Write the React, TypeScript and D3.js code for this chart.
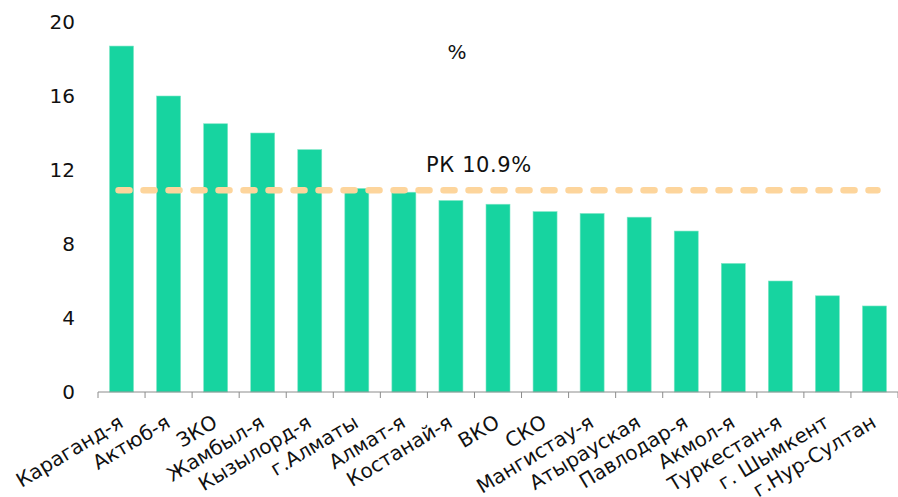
import * as d3 from 'd3';

// Data
const regions = [
    'Караганд-я', 'Актюб-я', 'ЗКО', 'Жамбыл-я', 'Кызылорд-я', 'г.Алматы', 'Алмат-я',
    'Костанай-я', 'ВКО', 'СКО', 'Мангистау-я', 'Атырауская', 'Павлодар-я', 'Акмол-я',
    'Туркестан-я', 'г. Шымкент', 'г.Нур-Султан'
];
const shares = [18.7, 16.0, 14.5, 14.0, 13.1, 11.0, 10.8, 10.35, 10.15, 9.75, 9.65, 9.45, 8.7, 6.95, 6.0, 5.2, 4.65];
const countryAvg = 10.9;
const yTicks = [0, 4, 8, 12, 16, 20];

const W = 898, H = 497;
const font = 'DejaVu Sans, Verdana, sans-serif';

export default function App() {
    const x = d3.scaleBand().domain(regions).range([98, 898]).paddingInner(0.49).paddingOuter(0.245);
    const y = d3.scaleLinear().domain([0, 20]).range([392, 22]);
    const step = x.step();

    // Border positions between the categories
    const tickXs = regions.map((_, i) => 98 + i * step).concat([898]);

    const lineX0 = x(regions[0])! + x.bandwidth() / 2 - 3;
    const lineX1 = x(regions[regions.length - 1])! + x.bandwidth() / 2 + 3;

    return (
        <svg width={W} height={H} style={{ position: 'absolute', left: 0, top: 0, background: '#fff' }}>
            {/* Y tick labels */}
            {yTicks.map(t => (
                <text key={t} x={75} y={y(t)} dy="0.36em" textAnchor="end" fontFamily={font} fontSize={20} fill="#111">{t}</text>
            ))}

            {/* Bars */}
            {regions.map((r, i) => (
                <rect key={r} x={x(r)} y={y(shares[i])} width={x.bandwidth()} height={y(0) - y(shares[i])}
                    fill="#17D4A0" stroke="#7EE6C6" strokeWidth={0.6} />
            ))}

            {/* Country average line */}
            <line x1={lineX0} x2={lineX1} y1={y(countryAvg)} y2={y(countryAvg)}
                stroke="#FDD59C" strokeWidth={6.5} strokeLinecap="round" strokeDasharray="11 14" />

            {/* X axis */}
            <line x1={98} x2={898} y1={y(0)} y2={y(0)} stroke="#8C8C8C" strokeWidth={1} />
            {tickXs.map((tx, i) => (
                <line key={i} x1={tx} x2={tx} y1={y(0)} y2={y(0) + 6} stroke="#8C8C8C" strokeWidth={1} />
            ))}

            {/* X labels */}
            {regions.map(r => {
                const cx = x(r)! + x.bandwidth() / 2 + 3;
                return (
                    <text key={r} transform={`translate(${cx},${426}) rotate(-31)`} textAnchor="end"
                        fontFamily={font} fontSize={20} fill="#111">{r}</text>
                );
            })}

            {/* Annotations */}
            <text x={457} y={52} dy="0.36em" textAnchor="middle" fontFamily={font} fontSize={20} fill="#111">%</text>
            <text x={479} y={164} dy="0.36em" textAnchor="middle" fontFamily={font} fontSize={21}
                letterSpacing={0.6} fill="#111">РК 10.9%</text>
        </svg>
    );
}
